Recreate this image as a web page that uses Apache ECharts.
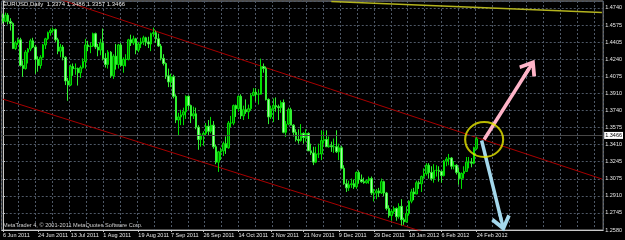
<!DOCTYPE html>
<html><head><meta charset="utf-8">
<script src="https://cdn.jsdelivr.net/npm/echarts@6/dist/echarts.min.js"></script>
<style>html,body{margin:0;padding:0;background:#000;}#c{width:625px;height:240px;}</style>
</head><body><div id="c"></div>
<script>
// ---- data (EURUSD daily, 6 Jun 2011 - 24 Feb 2012) ----
const symbolName = 'EURUSD,Daily';
const firstDate = '2011-06-06';
const futureBars = 50; // empty chart shift on the right
const opens = [
1.4640,1.4610,1.4670,1.4610,1.4590,1.4345,1.4400,1.4430,1.4180,1.4150,1.4310,1.4340,1.4420,1.4360,1.4240,1.4180,1.4260,1.4380,1.4440,
1.4500,1.4520,1.4530,1.4430,1.4320,1.4360,1.4260,1.4030,1.3990,1.4170,1.4150,1.4150,1.4110,1.4160,1.4220,1.4380,1.4365,1.4370,1.4490,1.4360,1.4330,
1.4400,1.4250,1.4190,1.4310,1.4080,1.4270,1.4190,1.4380,1.4180,1.4240,1.4240,1.4430,1.4400,1.4440,1.4330,1.4390,1.4410,1.4450,1.4410,1.4390,1.4490,1.4500,1.4440,
1.4370,1.4250,1.4200,1.4080,1.4020,1.4070,1.3880,1.3650,1.3680,1.3700,1.3730,1.3880,1.3790,1.3690,1.3710,1.3580,1.3460,1.3500,1.3520,1.3590,1.3540,1.3600,
1.3390,1.3240,1.3340,1.3350,1.3420,1.3380,1.3620,1.3620,1.3790,1.3760,1.3880,1.3690,1.3750,1.3730,1.3760,1.3890,1.3920,1.3900,1.3900,1.4170,1.4150,
1.3850,1.3680,1.3760,1.3790,1.3780,1.3770,1.3820,1.3530,1.3610,1.3750,1.3600,1.3530,1.3460,1.3450,1.3520,1.3480,1.3520,1.3350,1.3330,1.3240,1.3320,1.3320,
1.3450,1.3460,1.3390,1.3400,1.3390,1.3390,1.3340,1.3380,1.3180,1.3030,1.2990,1.3020,1.3030,1.3000,1.3140,1.3070,1.3050,1.3040,1.3060,1.3080,1.2940,1.2940,
1.2960,1.2940,1.3050,1.2940,1.2790,1.2720,1.2760,1.2790,1.2710,1.2810,1.2680,1.2660,1.2740,1.2860,1.2950,1.2930,1.3040,1.3030,1.3100,1.3130,1.3210,1.3140,
1.3080,1.3160,1.3160,1.3150,1.3110,1.3250,1.3270,1.3280,1.3200,1.3210,1.3140,1.3080,1.3130,1.3150,1.3240,1.3240,1.3230,1.3374];
const highs = [
1.4685,1.4695,1.4690,1.4640,1.4600,1.4420,1.4450,1.4450,1.4230,1.4330,1.4350,1.4440,1.4450,1.4380,1.4270,1.4280,1.4390,1.4450,1.4510,
1.4540,1.4550,1.4540,1.4450,1.4390,1.4380,1.4270,1.4060,1.4190,1.4200,1.4200,1.4160,1.4180,1.4250,1.4440,1.4420,1.4400,1.4500,1.4500,1.4390,1.4440,
1.4540,1.4300,1.4330,1.4320,1.4290,1.4390,1.4390,1.4400,1.4260,1.4290,1.4440,1.4480,1.4470,1.4450,1.4410,1.4450,1.4470,1.4460,1.4460,1.4500,1.4549,1.4520,1.4490,
1.4390,1.4290,1.4210,1.4150,1.4100,1.4090,1.3900,1.3720,1.3750,1.3770,1.3890,1.3890,1.3800,1.3780,1.3770,1.3600,1.3520,1.3540,1.3620,1.3650,1.3680,1.3640,
1.3410,1.3350,1.3380,1.3440,1.3490,1.3640,1.3690,1.3800,1.3800,1.3890,1.3900,1.3790,1.3850,1.3800,1.3910,1.3960,1.3960,1.3950,1.4247,1.4200,1.4170,
1.3860,1.3790,1.3860,1.3870,1.3800,1.3840,1.3850,1.3640,1.3770,1.3770,1.3610,1.3560,1.3560,1.3610,1.3530,1.3560,1.3530,1.3420,1.3390,1.3390,1.3420,1.3550,
1.3540,1.3550,1.3490,1.3440,1.3470,1.3550,1.3420,1.3400,1.3210,1.3070,1.3060,1.3080,1.3070,1.3150,1.3160,1.3120,1.3090,1.3070,1.3100,1.3100,1.2980,1.2980,
1.2990,1.3080,1.3060,1.2950,1.2820,1.2780,1.2810,1.2800,1.2840,1.2880,1.2700,1.2810,1.2870,1.2980,1.2990,1.3060,1.3060,1.3110,1.3180,1.3230,1.3230,1.3200,
1.3220,1.3210,1.3200,1.3160,1.3260,1.3290,1.3320,1.3290,1.3250,1.3220,1.3190,1.3140,1.3200,1.3290,1.3290,1.3280,1.3390,1.3486];
const lows = [
1.4590,1.4600,1.4580,1.4520,1.4340,1.4330,1.4380,1.4170,1.4070,1.4140,1.4200,1.4320,1.4350,1.4100,1.4120,1.4150,1.4250,1.4340,1.4430,
1.4470,1.4500,1.4410,1.4290,1.4260,1.4230,1.3990,1.3837,1.3980,1.4080,1.4090,1.3985,1.4060,1.4150,1.4150,1.4320,1.4300,1.4360,1.4340,1.4270,1.4280,
1.4230,1.4160,1.4150,1.4060,1.4050,1.4140,1.4150,1.4170,1.4110,1.4170,1.4230,1.4370,1.4380,1.4290,1.4310,1.4350,1.4380,1.4370,1.4350,1.4320,1.4460,1.4400,1.4360,
1.4230,1.4180,1.4050,1.3970,1.3970,1.3860,1.3620,1.3495,1.3600,1.3600,1.3660,1.3750,1.3620,1.3660,1.3560,1.3360,1.3390,1.3400,1.3500,1.3500,1.3520,1.3370,
1.3220,1.3145,1.3260,1.3300,1.3320,1.3370,1.3580,1.3600,1.3680,1.3730,1.3660,1.3650,1.3710,1.3660,1.3740,1.3880,1.3830,1.3800,1.3900,1.4110,1.3840,
1.3610,1.3660,1.3630,1.3730,1.3650,1.3720,1.3520,1.3485,1.3600,1.3600,1.3490,1.3440,1.3420,1.3440,1.3420,1.3440,1.3350,1.3310,1.3211,1.3230,1.3280,1.3260,
1.3420,1.3390,1.3380,1.3340,1.3330,1.3330,1.3260,1.3170,1.3020,1.2950,1.2960,1.2990,1.2980,1.2980,1.3030,1.3040,1.3030,1.3030,1.3030,1.2920,1.2858,1.2880,
1.2900,1.2930,1.2910,1.2770,1.2700,1.2670,1.2740,1.2670,1.2690,1.2624,1.2630,1.2650,1.2720,1.2840,1.2870,1.2930,1.2980,1.2950,1.3080,1.3110,1.3080,1.3060,
1.3040,1.3100,1.3050,1.3040,1.3100,1.3200,1.3210,1.3170,1.3170,1.3120,1.3020,1.2980,1.3080,1.3150,1.3180,1.3190,1.3220,1.3357];
const closes = [
1.4610,1.4670,1.4610,1.4590,1.4345,1.4400,1.4430,1.4180,1.4150,1.4310,1.4340,1.4420,1.4360,1.4240,1.4180,1.4260,1.4380,1.4440,1.4500,
1.4520,1.4530,1.4430,1.4320,1.4360,1.4260,1.4030,1.3990,1.4170,1.4150,1.4150,1.4110,1.4160,1.4220,1.4380,1.4365,1.4370,1.4490,1.4360,1.4330,1.4400,
1.4250,1.4190,1.4310,1.4080,1.4270,1.4190,1.4380,1.4180,1.4240,1.4240,1.4430,1.4400,1.4440,1.4330,1.4390,1.4410,1.4450,1.4410,1.4390,1.4490,1.4500,1.4440,1.4370,
1.4250,1.4200,1.4080,1.4020,1.4070,1.3880,1.3650,1.3680,1.3700,1.3730,1.3880,1.3790,1.3690,1.3710,1.3580,1.3460,1.3500,1.3520,1.3590,1.3540,1.3600,1.3390,
1.3240,1.3340,1.3350,1.3420,1.3380,1.3620,1.3620,1.3790,1.3760,1.3880,1.3690,1.3750,1.3730,1.3760,1.3890,1.3920,1.3900,1.3900,1.4170,1.4150,1.3850,
1.3680,1.3760,1.3790,1.3780,1.3770,1.3820,1.3530,1.3610,1.3750,1.3600,1.3530,1.3460,1.3450,1.3520,1.3480,1.3520,1.3350,1.3330,1.3240,1.3320,1.3320,1.3450,
1.3460,1.3390,1.3400,1.3390,1.3390,1.3340,1.3380,1.3180,1.3030,1.2990,1.3020,1.3030,1.3000,1.3140,1.3070,1.3050,1.3040,1.3060,1.3080,1.2940,1.2940,1.2960,
1.2940,1.3050,1.2940,1.2790,1.2720,1.2760,1.2790,1.2710,1.2810,1.2680,1.2660,1.2740,1.2860,1.2950,1.2930,1.3040,1.3030,1.3100,1.3130,1.3210,1.3140,1.3080,
1.3160,1.3160,1.3150,1.3110,1.3250,1.3270,1.3280,1.3200,1.3210,1.3140,1.3080,1.3130,1.3150,1.3240,1.3240,1.3230,1.3380,1.3466];

// x-axis tick labels (dates shown on the time scale)
const xTickDates = ['2011-06-06','2011-06-24','2011-07-13','2011-08-01','2011-08-19','2011-09-07','2011-09-26',
  '2011-10-14','2011-11-02','2011-11-21','2011-12-09','2011-12-29','2012-01-18','2012-02-06','2012-02-24'];
// price scale tick labels
const priceLabels = ['1.2580','1.2745','1.2910','1.3075','1.3245','1.3410','1.3575','1.3740','1.3910','1.4075','1.4240','1.4405','1.4575','1.4740'];
const priceMin = 1.2580;
const priceStep = 0.016615;
const priceMax = 1.48077;

// drawn objects (date, price)
const upperChannel = [['2011-07-04', 1.4845], ['2012-05-04', 1.3076]];
const lowerChannel = [['2011-06-06', 1.3853], ['2012-01-30', 1.2544]];
const yellowLine   = [['2011-12-06', 1.4803], ['2012-05-04', 1.4696]];
const pinkArrow    = [['2012-02-29', 1.3460], ['2012-03-26', 1.4154]];
const blueArrow    = [['2012-02-28', 1.3451], ['2012-03-09', 1.2661]];
const ellipseCenter = ['2012-02-29', 1.3460];
const copyrightText = 'MetaTrader 4, \u00a9 2001-2011 MetaQuotes Software Corp.';

// ---- build ----
const dates = [];
(function () {
  const p = firstDate.split('-').map(Number);
  const d = new Date(Date.UTC(p[0], p[1] - 1, p[2]));
  while (dates.length < closes.length + futureBars) {
    const wd = d.getUTCDay();
    if (wd !== 0 && wd !== 6) dates.push(d.toISOString().slice(0, 10));
    d.setUTCDate(d.getUTCDate() + 1);
  }
})();
const MON = ['Jan','Feb','Mar','Apr','May','Jun','Jul','Aug','Sep','Oct','Nov','Dec'];
const fmtDate = s => { const p = s.split('-'); return (+p[2]) + ' ' + MON[+p[1] - 1] + ' ' + p[0]; };
const tickSet = new Set(xTickDates);
const candles = closes.map((c, i) => [opens[i], c, lows[i], highs[i]]);
const n = closes.length;
const lastClose = closes[n - 1];
const header = symbolName + '  ' + [opens[n-1], highs[n-1], lows[n-1], closes[n-1]].map(v => v.toFixed(4)).join(' ');
const FONT = 'Liberation Sans';
const chevron = 'path://M10,0 L20,13 L17.2,15.6 L10,6.2 L2.8,15.6 L0,13 Z M8.4,3 L11.6,3 L11.6,20 L8.4,20 Z';
const ellipsePath = 'path://M0,50 A50,50 0 1,1 100,50 A50,50 0 1,1 0,50 Z';

const chart = echarts.init(document.getElementById('c'), null, { renderer: 'canvas' });
chart.setOption({
  backgroundColor: '#000000',
  animation: false,
  title: [
    { text: header, left: 3, top: 1, padding: 0,
      textStyle: { color: '#e6e6e6', fontSize: 6, fontWeight: 'normal', fontFamily: FONT } },
    { text: copyrightText, left: 3, top: 222, padding: 0,
      textStyle: { color: '#d0d0d0', fontSize: 5.6, fontWeight: 'normal', fontFamily: FONT } }
  ],
  grid: { left: 1, right: 19, top: 1, bottom: 10, show: true, borderColor: '#9a9a9a', borderWidth: 1, backgroundColor: 'transparent' },
  xAxis: [
    { type: 'category', data: dates, boundaryGap: true,
      axisLine: { show: true, lineStyle: { color: '#c8c8c8', width: 1 } },
      axisTick: { show: true, interval: (i, v) => tickSet.has(v), length: 2, alignWithLabel: true, lineStyle: { color: '#c8c8c8' } },
      axisLabel: { interval: (i, v) => tickSet.has(v), formatter: v => fmtDate(v), align: 'left',
        color: '#e6e6e6', fontSize: 5.5, fontFamily: FONT, margin: 2 },
      splitLine: { show: false } },
    { type: 'value', min: -0.5, max: dates.length - 0.5, interval: 6.75, position: 'bottom',
      axisLine: { show: false }, axisTick: { show: false }, axisLabel: { show: false },
      splitLine: { show: true, lineStyle: { color: '#4e5866', type: [2, 2], width: 1 } } }
  ],
  yAxis: {
    type: 'value', position: 'right', min: priceMin, max: priceMax, interval: priceStep, scale: true,
    axisLine: { show: true, lineStyle: { color: '#c8c8c8', width: 1 } },
    axisTick: { show: true, length: 2, lineStyle: { color: '#c8c8c8' } },
    axisLabel: { color: '#e6e6e6', fontSize: 5.5, fontFamily: FONT, margin: 2,
      formatter: v => { const k = (v - priceMin) / priceStep; const r = Math.round(k);
        return Math.abs(k - r) < 0.02 && priceLabels[r] ? priceLabels[r] : ''; } },
    splitLine: { show: true, lineStyle: { color: '#4e5866', type: [2, 2], width: 1 } }
  },
  series: [
    { type: 'line', name: 'upper', data: upperChannel, showSymbol: false, silent: true, z: 3,
      lineStyle: { color: '#a80000', width: 1 } },
    { type: 'line', name: 'lower', data: lowerChannel, showSymbol: false, silent: true, z: 3,
      lineStyle: { color: '#a80000', width: 1 } },
    { type: 'line', name: 'yellow', data: yellowLine, showSymbol: false, silent: true, z: 3,
      lineStyle: { color: '#b4b41e', width: 1.6 } },
    { type: 'candlestick', name: 'EURUSD', data: candles, barWidth: 2, silent: true, z: 4,
      itemStyle: { color: '#006e00', color0: '#a8f8a8', borderColor: '#00e000', borderColor0: '#30f030', borderWidth: 1 },
      markLine: {
        silent: true, animation: false, symbol: ['none', 'none'], label: { show: false },
        data: [
          { yAxis: lastClose, lineStyle: { color: '#484848', width: 1, type: 'solid' },
            label: { show: true, position: 'end', formatter: lastClose.toFixed(4), color: '#000', backgroundColor: '#ffffff',
              fontSize: 5.5, fontFamily: FONT, padding: [1, 1, 0, 1], distance: 1 } },
          [ { coord: pinkArrow[0], symbol: 'none', lineStyle: { color: '#ffb4c8', width: 3.5, type: 'solid' } },
            { coord: pinkArrow[1], symbol: chevron, symbolSize: 20, lineStyle: { color: '#ffb4c8', width: 3.5, type: 'solid' } } ],
          [ { coord: blueArrow[0], symbol: 'none', lineStyle: { color: '#a4d8ec', width: 3.5, type: 'solid' } },
            { coord: blueArrow[1], symbol: chevron, symbolSize: 20, lineStyle: { color: '#a4d8ec', width: 3.5, type: 'solid' } } ]
        ]
      } },
    { type: 'scatter', name: 'circle', data: [ellipseCenter], symbol: ellipsePath, symbolSize: [38, 35], silent: true, z: 6,
      itemStyle: { color: 'rgba(0,0,0,0)', borderColor: '#e8e800', borderWidth: 2 } }
  ]
});
</script>
</body></html>
